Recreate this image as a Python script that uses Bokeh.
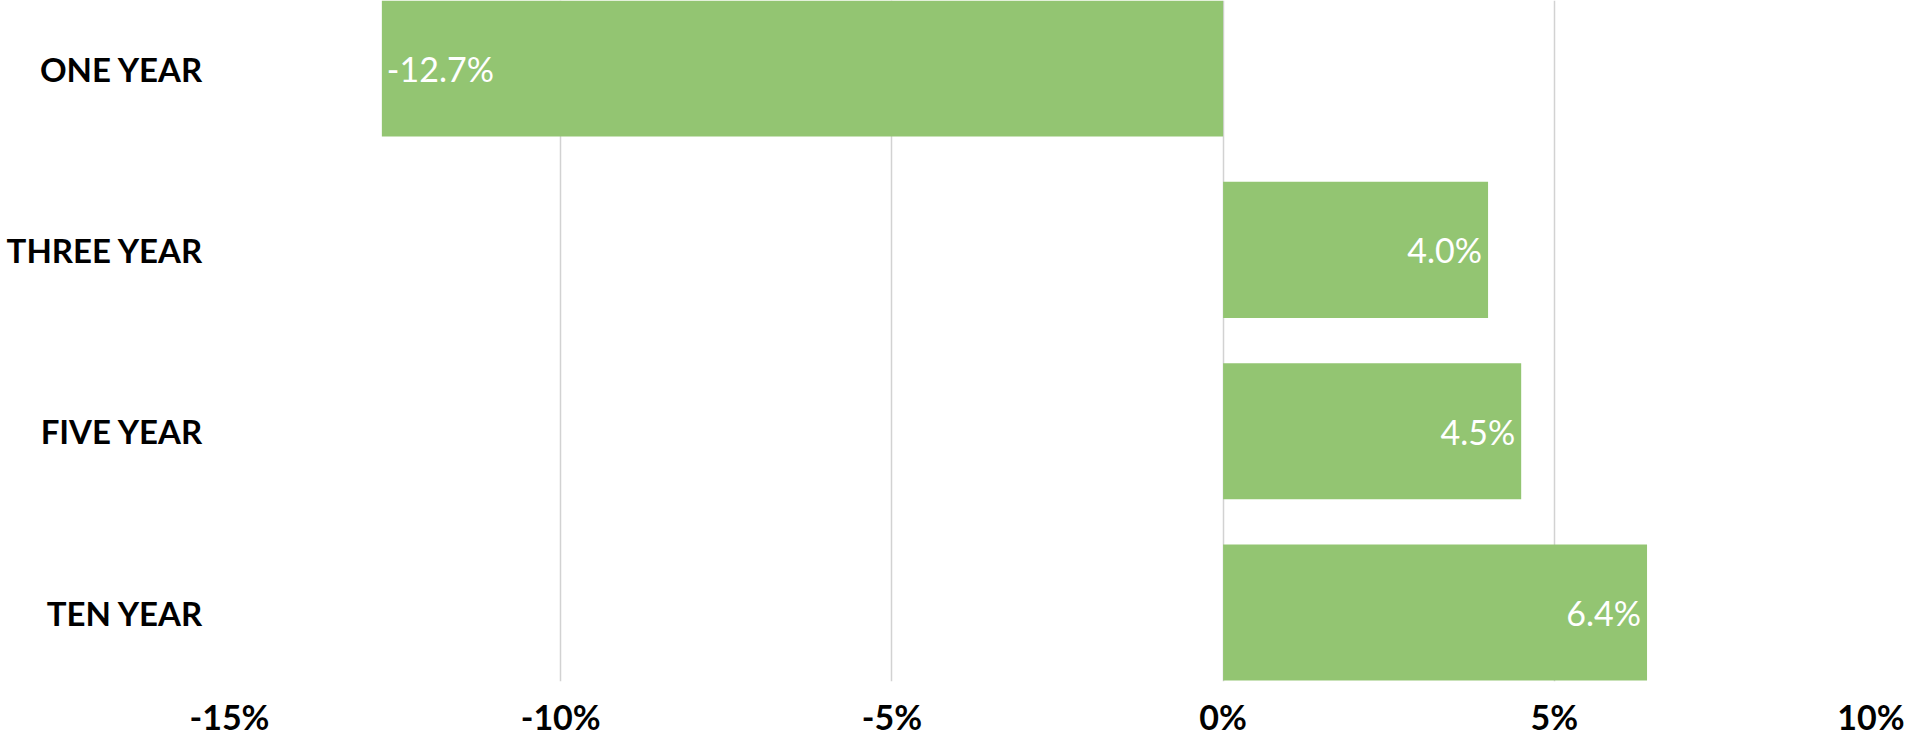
"""
Annualized returns by period, horizontal bar chart.
"""

from bokeh.core.properties import value
from bokeh.embed import file_html
from bokeh.models import ColumnDataSource, FixedTicker, PrintfTickFormatter, Range1d
from bokeh.plotting import figure
from bokeh.resources import INLINE

# Data
periods = ["ONE YEAR", "THREE YEAR", "FIVE YEAR", "TEN YEAR"]
returns = [-12.7, 4.0, 4.5, 6.4]
x_ticks = [-15, -10, -5, 0, 5, 10]

BAR_COLOR = "#93c572"
FONT = "Lato"


def create_plot():
    # periods are drawn top to bottom
    ypos = [len(periods) - 1 - i for i in range(len(periods))]
    labels = ["%.1f%%" % r for r in returns]
    src = ColumnDataSource(data=dict(
        y=ypos,
        ret=returns,
        label=labels,
        align=["left" if r < 0 else "right" for r in returns],
        xoff=[5 if r < 0 else -6 for r in returns],
    ))

    p = figure(
        width=1904,
        height=739,
        x_range=Range1d(-15, 10),
        y_range=Range1d(-0.38, 3.375),
        output_backend="svg",
        toolbar_location=None,
        tools="",
        min_border_left=229,
        min_border_right=19,
        min_border_top=0,
        min_border_bottom=50,
    )

    p.hbar(y="y", left=0, right="ret", height=0.75, source=src,
           fill_color=BAR_COLOR, line_color=None)

    p.text(x="ret", y="y", text="label", source=src,
           text_align="align", x_offset="xoff", text_baseline="middle",
           text_color="white", text_font=value(FONT),
           text_font_size="34px")

    # Axes
    p.xaxis.ticker = FixedTicker(ticks=x_ticks)
    p.xaxis.formatter = PrintfTickFormatter(format="%d%%")
    p.yaxis.ticker = FixedTicker(ticks=ypos)
    p.yaxis.major_label_overrides = {y: name for y, name in zip(ypos, periods)}

    for ax in (p.xaxis, p.yaxis):
        ax.axis_line_color = None
        ax.major_tick_line_color = None
        ax.minor_tick_line_color = None
        ax.major_tick_out = 0
        ax.major_tick_in = 0
        ax.minor_tick_out = 0
        ax.minor_tick_in = 0
        ax.major_label_text_font = FONT
        ax.major_label_text_font_style = "bold"
        ax.major_label_text_font_size = "33px"
        ax.major_label_text_color = "black"
        ax.major_label_text_line_height = 1.0
    p.xaxis.major_label_text_font_size = "34px"
    p.xaxis.major_label_standoff = 14
    p.yaxis.major_label_standoff = 26

    p.xgrid.grid_line_color = "#d2d2d2"
    p.xgrid.grid_line_width = 1.5
    p.ygrid.grid_line_color = None
    p.outline_line_color = None

    return p


p = create_plot()
open("out.html", "w").write(file_html(p, INLINE))
